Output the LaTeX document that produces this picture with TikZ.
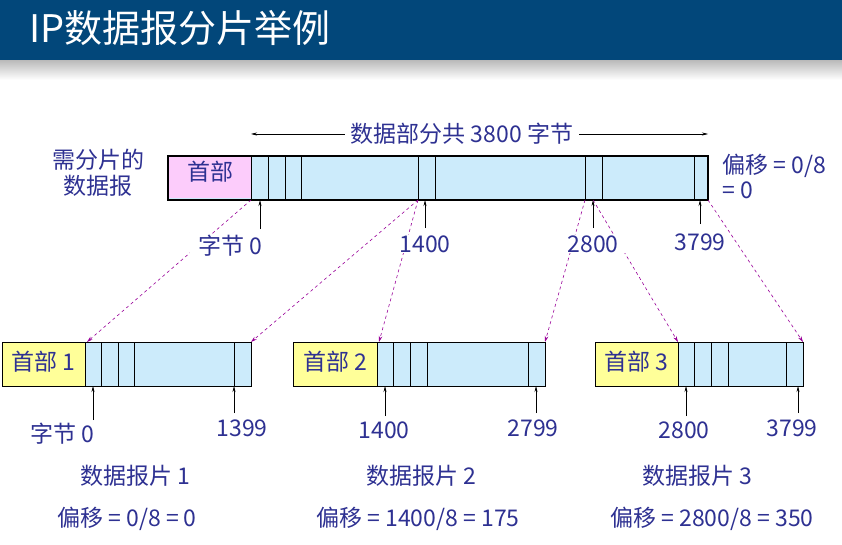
\documentclass[tikz,border=0pt]{standalone}
\usepackage{fontspec}
\setmainfont{Liberation Sans}
\newfontfamily\cjk{Noto Sans CJK SC}
\usetikzlibrary{arrows.meta}
\definecolor{txt}{HTML}{2E3192}
\definecolor{band}{HTML}{02477A}
\definecolor{pay}{HTML}{CCEBFB}
\definecolor{pinkh}{HTML}{FCCCFB}
\definecolor{yelh}{HTML}{FFFF99}
\definecolor{purp}{HTML}{990099}
\begin{document}
\begin{tikzpicture}[x=1pt,y=-1pt,
  lbl/.style={text=txt,font=\cjk\fontsize{23}{26}\selectfont,inner sep=1pt},
  sep/.style={draw=black,line width=0.8pt},
  upar/.style={-{Stealth[length=6pt,width=3pt]},line width=0.6pt},
  dsh/.style={purp,dashed,line width=0.6pt,-{Stealth[length=6pt,width=3.5pt]}}]
\useasboundingbox (0,0) rectangle (842,545);
\fill[white] (0,0) rectangle (842,545);
\shade[top color=gray!60,bottom color=white] (0,58) rectangle (842,80);
\fill[band] (0,0) rectangle (842,60);
\node[anchor=west,text=white,font=\cjk\fontsize{38}{44}\selectfont] (title) at (26,28) {IP数据报分片举例};
% top datagram
\fill[pay] (168,156) rectangle (708,200);
\fill[pinkh] (168,156) rectangle (251,198);
\foreach \x in {251,268,285,301,418,435,585,602,694} \draw[sep] (\x,156) -- (\x,200);
\draw[line width=1.8pt] (168,156) rectangle (708,200);
\node[lbl] (h0) at (210,172) {首部};
\coordinate (t0) at (251,200); \coordinate (t1) at (418,200);
\coordinate (t2) at (585,200); \coordinate (t3) at (593,200); \coordinate (t4) at (708,200);
% fragments
\foreach \a/\h/\b/\la/\lb/\lc/\ld/\n in {2/85/251/101/118/134/234/1,293/377/545/393/410/427/528/2,595/678/803/694/711/728/786/3}{
  \fill[pay] (\a,342) rectangle (\b,386);
  \fill[yelh] (\a,342) rectangle (\h,386);
  \foreach \x in {\h,\la,\lb,\lc,\ld} \draw[sep] (\x,342) -- (\x,386);
  \draw[line width=0.8pt] (\a,342) rectangle (\b,386);
  \node[lbl] (fh\n) at ({(\a+\h)/2},362) {首部 \n};
}
\coordinate (f1a) at (87,342); \coordinate (f1b) at (251,342);
\coordinate (f2a) at (379,342); \coordinate (f2b) at (545,342);
\coordinate (f3a) at (678,342); \coordinate (f3b) at (803,342);
\draw[dsh] (t0) -- (f1a);
\draw[dsh] (t1) -- (f1b);
\draw[dsh] (t1) -- (f2a);
\draw[dsh] (t2) -- (f2b);
\draw[dsh] (t3) -- (f3a);
\draw[dsh] (t4) -- (f3b);
% top labels
\node[lbl,fill=white,inner xsep=8pt] (l0) at (230,246) {字节 0};
\node[lbl,fill=white,inner xsep=8pt] (l1) at (425,244) {1400};
\node[lbl,fill=white,inner xsep=8pt] (l2) at (593,244) {2800};
\node[lbl] (l3) at (700,242) {3799};
\draw[upar] (260,229) -- (260,200);
\draw[upar] (425,228) -- (425,200);
\draw[upar] (593,228) -- (593,200);
\draw[upar] (700,224) -- (700,200);
\node[lbl,align=center] (need) at (98,173) {需分片的\\数据报};
\node[lbl,anchor=west] (off0) at (721,166) {偏移 = 0/8};
\node[lbl,anchor=west] (off0b) at (721,190) {= 0};
\node[lbl,fill=white,inner xsep=6pt] (tot) at (462,134) {数据部分共 3800 字节};
\draw[-{Stealth[length=6pt,width=3pt]},line width=0.6pt] (tot.west) -- (251,134);
\draw[-{Stealth[length=6pt,width=3pt]},line width=0.6pt] (tot.east) -- (708,134);
% fragment labels
\node[lbl] (a1) at (62,434) {字节 0};
\node[lbl] (b1) at (242,428) {1399};
\node[lbl] (a2) at (384,430) {1400};
\node[lbl] (b2) at (533,428) {2799};
\node[lbl] (a3) at (684,430) {2800};
\node[lbl] (b3) at (792,428) {3799};
\draw[upar] (93,420) -- (93,386);
\draw[upar] (234,413) -- (234,386);
\draw[upar] (385,416) -- (385,386);
\draw[upar] (536,413) -- (536,386);
\draw[upar] (686,416) -- (686,386);
\draw[upar] (798,413) -- (798,386);
\node[lbl] (n1) at (135,476) {数据报片 1};
\node[lbl] (n2) at (421,476) {数据报片 2};
\node[lbl] (n3) at (697,476) {数据报片 3};
\node[lbl] (o1) at (127,519) {偏移 = 0/8 = 0};
\node[lbl] (o2) at (418,519) {偏移 = 1400/8 = 175};
\node[lbl] (o3) at (712,519) {偏移 = 2800/8 = 350};
\end{tikzpicture}
\end{document}
